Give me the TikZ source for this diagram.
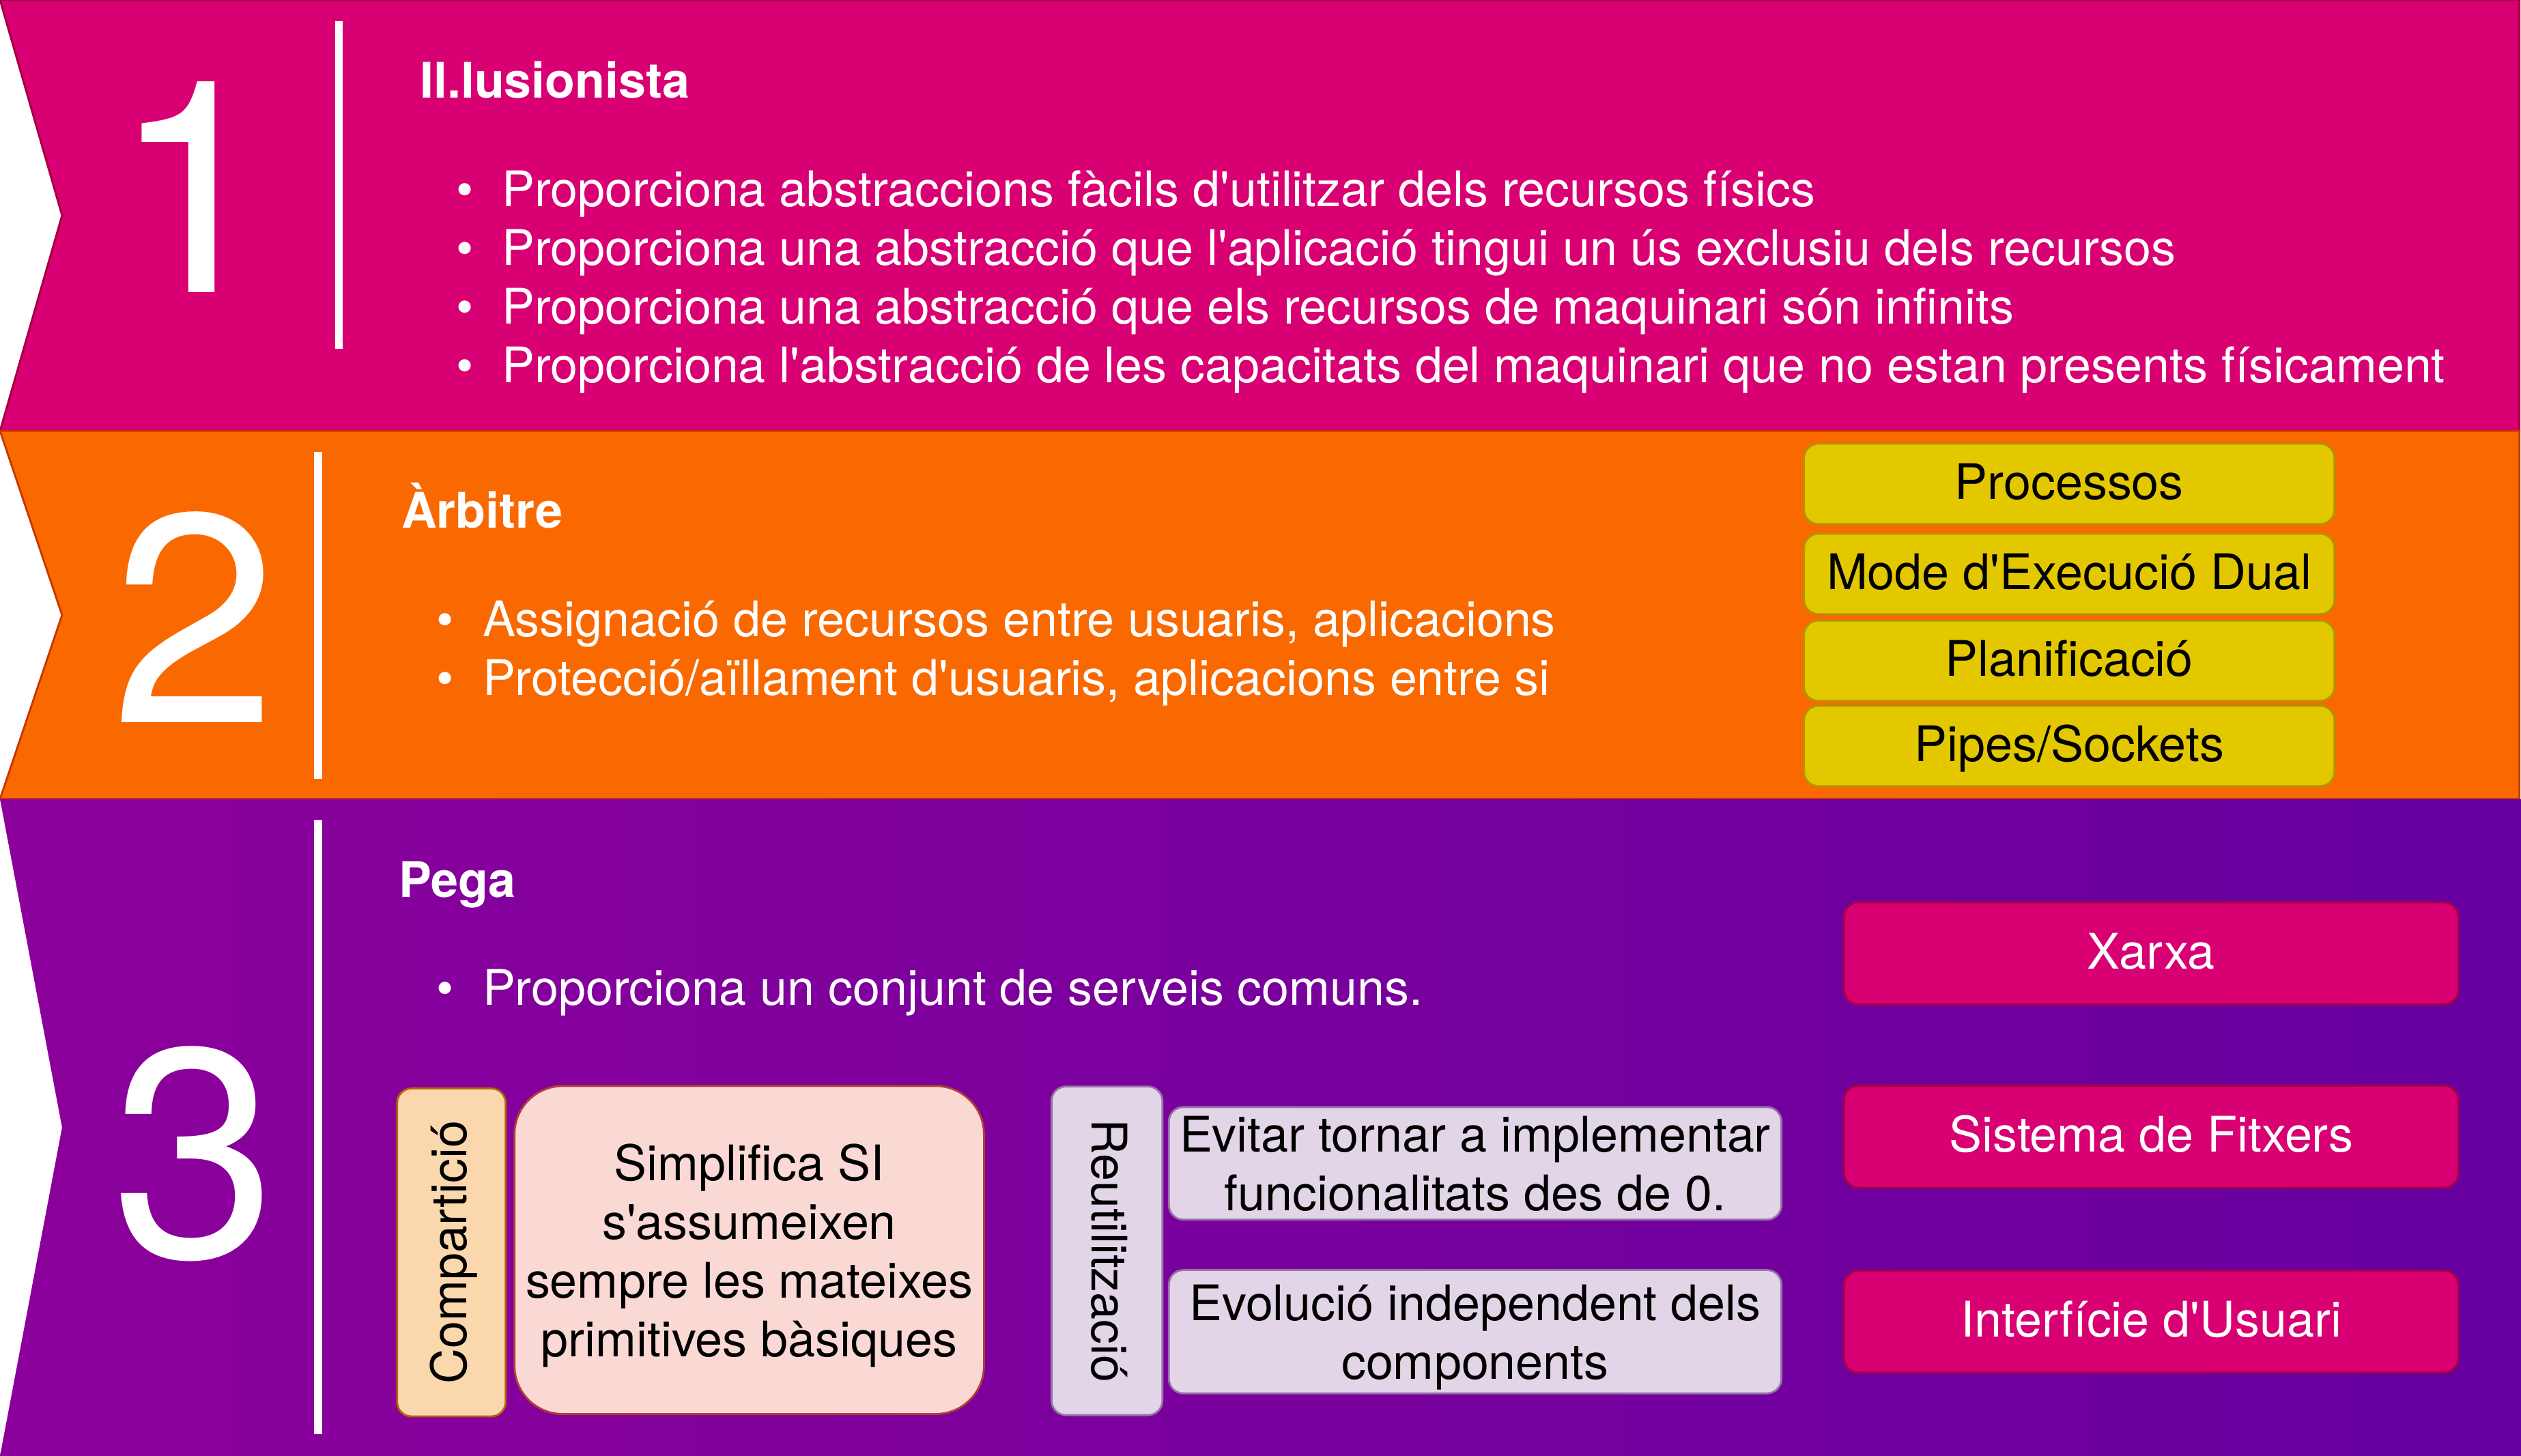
\documentclass[tikz,border=0pt]{standalone}
\usepackage{fontspec}
\newfontfamily\dfont{TeX Gyre Heros}
\usetikzlibrary{positioning}
\definecolor{ilpink}{HTML}{D80073}
\definecolor{ilpinkdk}{HTML}{A50040}
\definecolor{arorange}{HTML}{FA6800}
\definecolor{arorangedk}{HTML}{C73500}
\definecolor{pgleft}{HTML}{8C009B}
\definecolor{pgright}{HTML}{66009F}
\definecolor{svyellow}{HTML}{E3C800}
\definecolor{svyellowdk}{HTML}{B09500}
\definecolor{cpfill}{HTML}{FAD7AC}
\definecolor{cpline}{HTML}{B46504}
\definecolor{smfill}{HTML}{FAD9D5}
\definecolor{smline}{HTML}{AE4132}
\definecolor{rufill}{HTML}{E1D5E7}
\definecolor{ruline}{HTML}{9673A6}
\newcommand{\itm}{\makebox[28.5pt][l]{\textbullet}}

\begin{document}
\begin{tikzpicture}[x=1pt, y=-1pt,
    font=\dfont\fontsize{30.5}{36.5}\selectfont,
    digit/.style={text=white, font=\dfont\fontsize{185}{185}\selectfont, anchor=base, inner sep=0pt},
    ttl/.style={text=white, font=\dfont\bfseries\fontsize{30.5}{36.5}\selectfont, anchor=base west, inner sep=0pt},
    itm/.style={text=white, anchor=base west, inner sep=0pt},
    bar/.style={white, line width=5pt},
    box/.style={line width=1.2pt, rounded corners=9pt, inner sep=0pt, align=center},
    oneline/.style={text height=23pt, text depth=4pt},
    multi/.style={text depth=0pt},
    sv/.style={box, oneline, draw=svyellowdk, fill=svyellow, minimum width=330pt, minimum height=50pt},
    os/.style={box, oneline, draw=ilpinkdk, fill=ilpink, text=white, minimum width=382pt, minimum height=63.5pt},
    cp/.style={box, oneline, draw=cpline, fill=cpfill},
    sm/.style={box, multi, draw=smline, fill=smfill, rounded corners=30pt},
    ru/.style={box, draw=ruline, fill=rufill}]

  \useasboundingbox (0,0) rectangle (1568,905.6);

  \draw[fill=ilpink, draw=ilpinkdk, line width=1.2pt]
    (0,0) -- (1567,0) -- (1567,268) -- (0,268) -- (38.6,134) -- cycle;
  \draw[fill=arorange, draw=arorangedk, line width=1.2pt]
    (0,268) -- (1567,268) -- (1567,497) -- (0,497) -- (38.6,382.5) -- cycle;
  \shade[left color=pgleft, right color=pgright]
    (0,497) -- (1568,497) -- (1568,905.6) -- (0,905.6) -- (38.6,701.3) -- cycle;

  \node[digit] (n1) at (121,182) {1};
  \node[digit] (n2) at (121,449.4) {2};
  \node[digit] (n3) at (121,782) {3};

  \draw[bar] (210.8,13) -- (210.8,217);
  \draw[bar] (198,281) -- (198,484.5);
  \draw[bar] (198,510) -- (198,892);

  \node[ttl] (t1) at (261,61.1) {Il.lusionista};
  \node[itm] (b1) at (283.5,128.6) {\itm Proporciona abstraccions fàcils d'utilitzar dels recursos físics};
  \node[itm] (b2) at (283.5,165) {\itm Proporciona una abstracció que l'aplicació tingui un ús exclusiu dels recursos};
  \node[itm] (b3) at (283.5,201.4) {\itm Proporciona una abstracció que els recursos de maquinari són infinits};
  \node[itm] (b4) at (283.5,237.8) {\itm Proporciona l'abstracció de les capacitats del maquinari que no estan presents físicament};

  \node[ttl] (t2) at (249.5,328.6) {Àrbitre};
  \node[itm] (b5) at (271.5,396) {\itm Assignació de recursos entre usuaris, aplicacions};
  \node[itm] (b6) at (271.5,432.5) {\itm Protecció/aïllament d'usuaris, aplicacions entre si};

  \node[sv] (p1) at (1287,301) {Processos};
  \node[sv] (p2) at (1287,357) {Mode d'Execució Dual};
  \node[sv] (p3) at (1287,411) {Planificació};
  \node[sv] (p4) at (1287,464) {Pipes/Sockets};

  \node[ttl] (t3) at (248,558) {Pega};
  \node[itm] (b7) at (271.5,625.3) {\itm Proporciona un conjunt de serveis comuns.};

  \node[cp, rotate=90, minimum width=204pt, minimum height=67.5pt] (cmp) at (280.75,779) {Compartició};
  \node[sm, minimum width=292pt, minimum height=204pt] (smp) at (466,777.5)
    {Simplifica SI\\s'assumeixen\\sempre les mateixes\\primitives bàsiques};
  \node[ru, oneline, rotate=-90, minimum width=204.4pt, minimum height=69pt] (reu) at (688.5,778) {Reutilització};
  \node[ru, multi, minimum width=381pt, minimum height=70pt] (ev1) at (917.5,723.6)
    {Evitar tornar a implementar\\funcionalitats des de 0.};
  \node[ru, multi, minimum width=381pt, minimum height=76.7pt] (ev2) at (917.5,828.3)
    {Evolució independent dels\\components};

  \node[os] (s1) at (1338,593) {Xarxa};
  \node[os] (s2) at (1338,707) {Sistema de Fitxers};
  \node[os] (s3) at (1338,822) {Interfície d'Usuari};
\end{tikzpicture}
\end{document}
